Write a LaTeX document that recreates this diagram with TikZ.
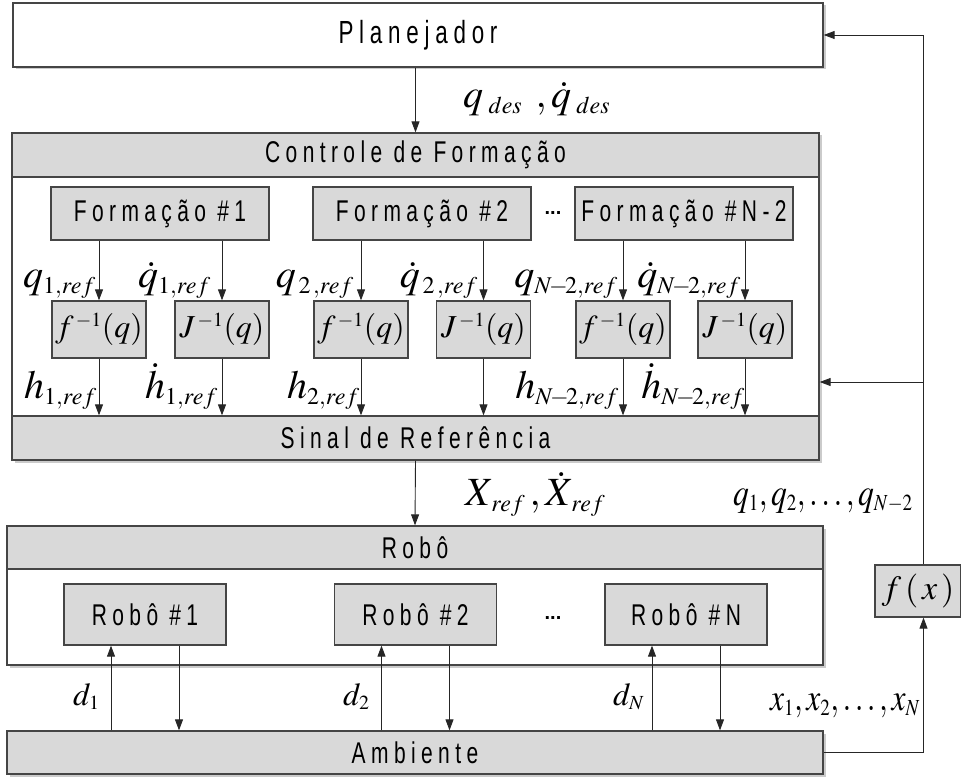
\documentclass[tikz,border=0pt]{standalone}
\usepackage{mathptmx}
\usepackage{graphicx}
\usepackage{fontspec}
\setmainfont{Liberation Sans}
\newfontfamily\boxfont[FakeStretch=0.7,LetterSpace=18]{Liberation Sans}
\DeclareMathSizes{40}{40}{24}{17}
\DeclareMathSizes{38}{38}{23}{16}
\DeclareMathSizes{34}{34}{21}{15}
\DeclareMathSizes{32}{32}{20}{14}
\usetikzlibrary{arrows.meta,shadows}
\definecolor{boxgray}{HTML}{D9D9D9}
\definecolor{edge}{HTML}{454545}
\newcommand\narrowmath[1]{\scalebox{0.83}[1]{$#1$}}
\tikzset{
  shad/.style={drop shadow={shadow xshift=2.5pt,shadow yshift=-2.5pt,fill=black!45,opacity=.45}},
  blk/.style={draw=edge,line width=1.3pt,fill=boxgray,inner sep=0pt,
    font=\boxfont\fontsize{30}{33}\selectfont},
  fbox/.style={blk,font=\fontsize{32}{36}\selectfont},
  arr/.style={-{Triangle[length=11pt,width=8pt]},line width=0.9pt,draw=black!85},
  ml/.style={inner sep=0pt,font=\fontsize{40}{44}\selectfont},
  dots/.style={inner sep=0pt,font=\fontsize{20}{24}\selectfont\bfseries}
}
\begin{document}
\begin{tikzpicture}[x=1pt,y=-1pt]
\useasboundingbox (0,0) rectangle (961,778);
% Planejador
\node[blk,fill=white,shad,minimum width=810pt,minimum height=64pt,font=\boxfont\fontsize{32}{35}\selectfont] (plan) at (418,35) {Planejador};
% Controle de Formacao
\node[blk,fill=white,shad,minimum width=807pt,minimum height=327pt] (ctrl) at (415.5,296.5) {};
\node[blk,minimum width=807pt,minimum height=44pt] (ctrlh) at (415.5,155) {Controle de Formação};
\node[blk,minimum width=807pt,minimum height=44pt] (sinal) at (415.5,438) {Sinal de Referência};
\node[blk,minimum width=218pt,minimum height=53pt] (F1) at (160,213.5) {Formação \#1};
\node[blk,minimum width=218pt,minimum height=53pt] (F2) at (422,213.5) {Formação \#2};
\node[blk,minimum width=218pt,minimum height=53pt] (FN) at (684,213.5) {Formação \#N-2};
\node[dots] (dd1) at (553,213) {...};
\node[fbox,minimum width=94pt,minimum height=57pt] (f1) at (99,329.5) {$f^{\,-1}(q)$};
\node[fbox,minimum width=94pt,minimum height=57pt] (J1) at (222,329.5) {$J^{\,-1}(q)$};
\node[fbox,minimum width=94pt,minimum height=57pt] (f2) at (361,329.5) {$f^{\,-1}(q)$};
\node[fbox,minimum width=94pt,minimum height=57pt] (J2) at (483.5,329.5) {$J^{\,-1}(q)$};
\node[fbox,minimum width=94pt,minimum height=57pt] (fN) at (623,329.5) {$f^{\,-1}(q)$};
\node[fbox,minimum width=94pt,minimum height=57pt] (JN) at (745,329.5) {$J^{\,-1}(q)$};
\foreach \b in {f1,J1,f2,J2,fN,JN}{
  \draw[arr] (\b.south) -- (\b.south |- sinal.north);}
\draw[arr] (f1.north |- F1.south) -- (f1.north);
\draw[arr] (J1.north |- F1.south) -- (J1.north);
\draw[arr] (f2.north |- F2.south) -- (f2.north);
\draw[arr] (J2.north |- F2.south) -- (J2.north);
\draw[arr] (fN.north |- FN.south) -- (fN.north);
\draw[arr] (JN.north |- FN.south) -- (JN.north);
% labels in controle
\node[ml,anchor=base east] (lq1) at (96,287) {$q_{1,ref}$};
\node[ml,anchor=base east] (lqd1) at (211,287) {$\dot q_{1,ref}$};
\node[ml,anchor=base east] (lq2) at (354,287) {$q_{\,2\,,ref}$};
\node[ml,anchor=base east] (lqd2) at (478,287) {$\dot q_{\,2\,,ref}$};
\node[ml,anchor=base east] (lqN) at (618,287) {$q_{N\!-\!2,ref}$};
\node[ml,anchor=base east] (lqdN) at (741,287) {$\dot q_{N\!-\!2,ref}$};
\node[ml,anchor=base east] (lh1) at (97,398) {$h_{1,ref}$};
\node[ml,anchor=base east] (lhd1) at (218,398) {$\dot h_{1,ref}$};
\node[ml,anchor=base east] (lh2) at (360,398) {$h_{2,ref}$};
\node[ml,anchor=base east] (lhN) at (619,398) {$h_{N\!-\!2,ref}$};
\node[ml,anchor=base east] (lhdN) at (745,398) {$\dot h_{N\!-\!2,ref}$};
% Robo
\node[blk,fill=white,shad,minimum width=816pt,minimum height=139pt] (robo) at (415,595.5) {};
\node[blk,minimum width=816pt,minimum height=43pt] (roboh) at (415,547.5) {Robô};
\node[blk,minimum width=162pt,minimum height=61pt] (R1) at (145,614.5) {Robô \#1};
\node[blk,minimum width=162pt,minimum height=61pt] (R2) at (415.5,614.5) {Robô \#2};
\node[blk,minimum width=162pt,minimum height=61pt] (RN) at (686,614.5) {Robô \#N};
\node[dots] (dd2) at (553,618) {...};
% Ambiente
\node[blk,shad,minimum width=816pt,minimum height=43pt] (amb) at (415,752.5) {Ambiente};
% f(x)
\node[fbox,minimum width=86pt,minimum height=52pt,font=\fontsize{34}{38}\selectfont] (fx) at (918,591) {$f\,(\,x\,)$};
\coordinate (fb) at (923.5,0);
\coordinate (jn) at (923.5,382);
% robot arrows
\foreach \r in {R1,R2,RN}{
  \draw[arr] ([xshift=-34pt]\r.south |- amb.north) -- ([xshift=-34pt]\r.south);
  \draw[arr] ([xshift=34pt]\r.south) -- ([xshift=34pt]\r.south |- amb.north);}
% main flow
\draw[arr] (plan.south -| ctrl.north) -- (ctrl.north);
\draw[arr] (sinal.south) -- (robo.north);
\draw[arr] (amb.east) -| (fx.south -| fb);
\draw[arr] (fx.north -| fb) |- (plan.east);
\draw[arr] (jn) -- (jn -| ctrl.east);
% labels
\node[ml,anchor=base west] (lqdes) at (463,108) {$q_{\;des}\;\,,\dot q_{\;des}$};
\node[ml,anchor=base west] (lX) at (465,505) {$X_{\,ref}\,,\dot X_{\,ref}$};
\node[ml,anchor=base west,font=\fontsize{38}{42}\selectfont] (lqs) at (733,505) {\narrowmath{q_1,q_2,\ldots,q_{N-2}}};
\node[ml,anchor=base west,font=\fontsize{38}{42}\selectfont] (lxs) at (770,710) {\narrowmath{x_1,x_2,\ldots,x_N}};
\node[ml,anchor=base west,font=\fontsize{32}{36}\selectfont] (ld1) at (73,705) {$d_1$};
\node[ml,anchor=base west,font=\fontsize{32}{36}\selectfont] (ld2) at (343,705) {$d_2$};
\node[ml,anchor=base west,font=\fontsize{32}{36}\selectfont] (ldN) at (613,705) {$d_N$};
\end{tikzpicture}
\end{document}
